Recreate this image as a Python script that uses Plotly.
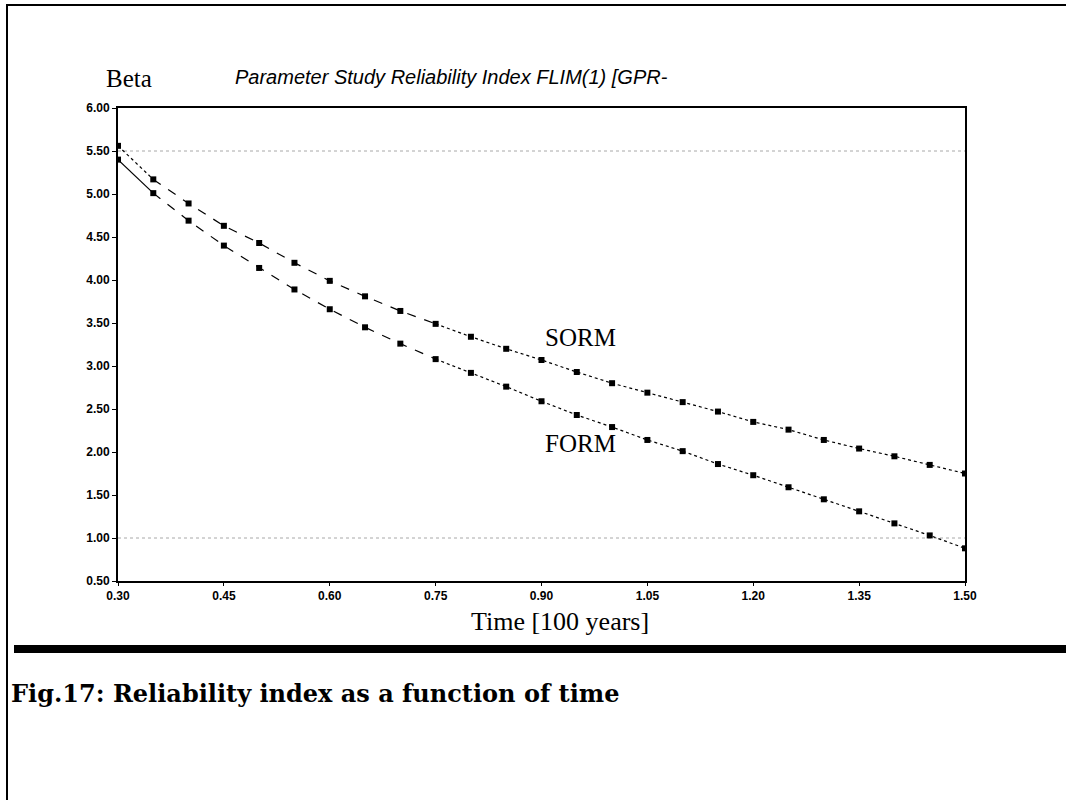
import plotly.graph_objects as go

# ---- data ----
time = [0.30, 0.35, 0.40, 0.45, 0.50, 0.55, 0.60, 0.65, 0.70, 0.75, 0.80, 0.85, 0.90,
        0.95, 1.00, 1.05, 1.10, 1.15, 1.20, 1.25, 1.30, 1.35, 1.40, 1.45, 1.50]
sorm = [5.56, 5.17, 4.89, 4.63, 4.43, 4.20, 3.99, 3.81, 3.64, 3.49, 3.34, 3.20, 3.07,
        2.93, 2.80, 2.69, 2.58, 2.47, 2.35, 2.26, 2.14, 2.04, 1.95, 1.85, 1.75]
form = [5.40, 5.01, 4.69, 4.40, 4.14, 3.89, 3.66, 3.45, 3.26, 3.08, 2.92, 2.76, 2.59,
        2.43, 2.29, 2.14, 2.01, 1.86, 1.73, 1.59, 1.45, 1.31, 1.17, 1.03, 0.88]
x_ticks = [0.30, 0.45, 0.60, 0.75, 0.90, 1.05, 1.20, 1.35, 1.50]
y_ticks = [0.50, 1.00, 1.50, 2.00, 2.50, 3.00, 3.50, 4.00, 4.50, 5.00, 5.50, 6.00]
grid_y = [5.50, 1.00]
labels = ["SORM", "FORM"]

W, H = 1066, 800
L, R, T, B = 118, 965, 108, 581

def px(x):
    return (x - L) / (R - L)

def py(y):
    return (B - y) / (B - T)

SERIF = "Liberation Serif, Times New Roman, serif"
SANS = "Liberation Sans, Arial, sans-serif"

fig = go.Figure()

# line segments with differing dash patterns (as in the original)
segs = [(0, 2, "dot", "solid"), (1, 10, "dash", "dash"), (9, len(time), "dot", "dot")]
for a, b, ds, df in segs:
    fig.add_trace(go.Scatter(x=time[a:b], y=sorm[a:b], mode="lines",
                             line=dict(color="black", width=1.2, dash=ds),
                             showlegend=False, hoverinfo="skip"))
    fig.add_trace(go.Scatter(x=time[a:b], y=form[a:b], mode="lines",
                             line=dict(color="black", width=1.2, dash=df),
                             showlegend=False, hoverinfo="skip"))

fig.add_trace(go.Scatter(x=time, y=sorm, mode="markers", name=labels[0],
                         marker=dict(symbol="square", size=6, color="black"),
                         showlegend=False))
fig.add_trace(go.Scatter(x=time, y=form, mode="markers", name=labels[1],
                         marker=dict(symbol="square", size=6, color="black"),
                         showlegend=False))

shapes = []
for gy in grid_y:
    shapes.append(dict(type="line", xref="paper", yref="y", x0=0, x1=1, y0=gy, y1=gy,
                       line=dict(color="#a8a8a8", width=1, dash="dot"), layer="below"))
# page frame: top line, left line
shapes.append(dict(type="line", xref="paper", yref="paper", x0=px(6), x1=px(1066),
                   y0=py(5), y1=py(5), line=dict(color="black", width=2)))
shapes.append(dict(type="line", xref="paper", yref="paper", x0=px(7), x1=px(7),
                   y0=py(5), y1=py(800), line=dict(color="black", width=2)))
# thick separator bar
shapes.append(dict(type="rect", xref="paper", yref="paper", x0=px(14), x1=px(1066),
                   y0=py(653), y1=py(645), fillcolor="black", line=dict(width=0)))

def ann(text, x, y, font, xanchor="center"):
    return dict(text=text, x=px(x), y=py(y), xref="paper", yref="paper",
                xanchor=xanchor, yanchor="middle", showarrow=False, font=font)

annotations = [
    ann("Beta", 129, 79, dict(family=SERIF, size=25, color="black")),
    ann("<i>Parameter Study Reliability Index FLIM(1) [GPR-</i>", 451, 77,
        dict(family=SANS, size=20, color="black")),
    ann("Time [100 years]", 560, 621, dict(family=SERIF, size=26, color="black")),
    ann("<b>Fig.17: Reliability index as a function of time</b>", 9, 693,
        dict(family="DejaVu Serif, serif", size=24, color="black"), xanchor="left"),
    ann(labels[0], 580, 337, dict(family=SERIF, size=25, color="black")),
    ann(labels[1], 580, 443, dict(family=SERIF, size=25, color="black")),
]

fig.update_layout(
    width=W, height=H,
    margin=dict(l=L, r=W - R, t=T, b=H - B),
    paper_bgcolor="white", plot_bgcolor="white",
    shapes=shapes, annotations=annotations,
    showlegend=False,
    xaxis=dict(range=[0.30, 1.50], tickvals=x_ticks,
               ticktext=[f"{v:.2f}" for v in x_ticks],
               showgrid=False, zeroline=False, showline=True, linecolor="black",
               linewidth=2, mirror=True, ticks="outside", ticklen=3, tickcolor="black",
               tickfont=dict(family=SANS, size=12, color="black", weight="bold")),
    yaxis=dict(range=[0.50, 6.00], tickvals=y_ticks,
               ticktext=[f"{v:.2f}" for v in y_ticks],
               showgrid=False, zeroline=False, showline=True, linecolor="black",
               linewidth=2, mirror=True, ticks="outside", ticklen=4, tickcolor="black",
               tickfont=dict(family=SANS, size=12, color="black", weight="bold")),
)

fig.write_html("out.html")
